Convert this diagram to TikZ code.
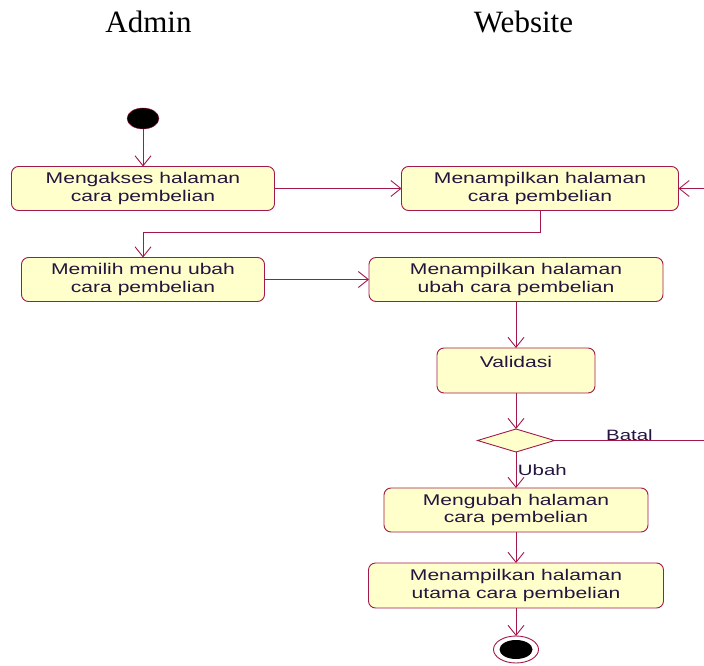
\documentclass[tikz,border=0pt]{standalone}
\usepackage{fontspec}
\usepackage{tikz}
\usetikzlibrary{shapes.geometric, arrows.meta, positioning}
\setmainfont{Liberation Serif}
\newfontfamily\rosefont[FakeStretch=1.36]{Liberation Sans}
\definecolor{roseline}{HTML}{A3194B}
\definecolor{rosefill}{HTML}{FFFFCC}
\definecolor{rosetext}{HTML}{24143F}

\begin{document}
\begin{tikzpicture}[x=1pt, y=-1pt,
  act/.style={draw=roseline, fill=rosefill, rounded corners=7pt, line width=0.9pt, minimum height=44pt, inner sep=0pt, outer sep=0pt, align=center, text=rosetext, font=\rosefont\fontsize{15.5}{17.3}\selectfont},
  flow/.style={draw=roseline, line width=0.9pt, -{Straight Barb[length=10pt, width=16pt]}},
  lane/.style={font=\fontsize{31}{36}\selectfont, anchor=base},
  guard/.style={font=\rosefont\fontsize{15}{17}\selectfont, text=rosetext, inner sep=0pt}]
\useasboundingbox (0,0) rectangle (704,666);
\node[lane] (admin) at (148.5,33) {Admin};
\node[lane] (website) at (523.5,33) {Website};
\node[ellipse, fill=black, draw=roseline, minimum width=32pt, minimum height=21pt, inner sep=0pt, outer sep=0pt] (start) at (143,118.5) {};
\node[act, minimum width=263pt, below=37.5pt of start] (akses) {Mengakses halaman\\cara pembelian};
\node[act, minimum width=277pt, right=127pt of akses] (tampil) {Menampilkan halaman\\cara pembelian};
\node[act, minimum width=243pt, below=47pt of akses] (pilih) {Memilih menu ubah\\cara pembelian};
\node[act, minimum width=294pt, right=104.5pt of pilih] (tampilubah) {Menampilkan halaman\\ubah cara pembelian};
\node[act, minimum width=158pt, minimum height=45pt, below=46.5pt of tampilubah] (validasi) {Validasi\\~};
\node[diamond, draw=roseline, fill=rosefill, line width=0.9pt, minimum width=77pt, minimum height=23pt, inner sep=0pt, outer sep=0pt, below=36pt of validasi] (cek) {};
\node[act, minimum width=264pt, below=36pt of cek] (ubah) {Mengubah halaman\\cara pembelian};
\node[act, minimum width=295pt, minimum height=45pt, below=31pt of ubah] (utama) {Menampilkan halaman\\utama cara pembelian};
\node[ellipse, draw=roseline, fill=white, line width=0.9pt, minimum width=45pt, minimum height=27pt, inner sep=0pt, outer sep=0pt, below=28pt of utama] (akhir) {};
\node[ellipse, fill=black, minimum width=33pt, minimum height=19pt, inner sep=0pt] (akhirdot) at (akhir) {};
\coordinate[right=163pt of cek.east] (balik);
\draw[flow] (start) -- (akses);
\draw[flow] (akses) -- (tampil);
\draw[flow] (tampil.south) -- ++(0,21.5) -| (pilih.north);
\draw[flow] (pilih) -- (tampilubah);
\draw[flow] (tampilubah) -- (validasi);
\draw[flow] (validasi) -- (cek);
\draw[flow] (cek) -- node[guard, pos=0.66, anchor=base west, xshift=1.5pt] (ubahlbl) {Ubah} (ubah);
\draw[flow] (ubah) -- (utama);
\draw[flow] (utama) -- (akhir);
\draw[flow] (cek.east) -- node[guard, pos=0.46, anchor=base] (batallbl) {Batal} (balik) |- (tampil.east);
\end{tikzpicture}
\end{document}
